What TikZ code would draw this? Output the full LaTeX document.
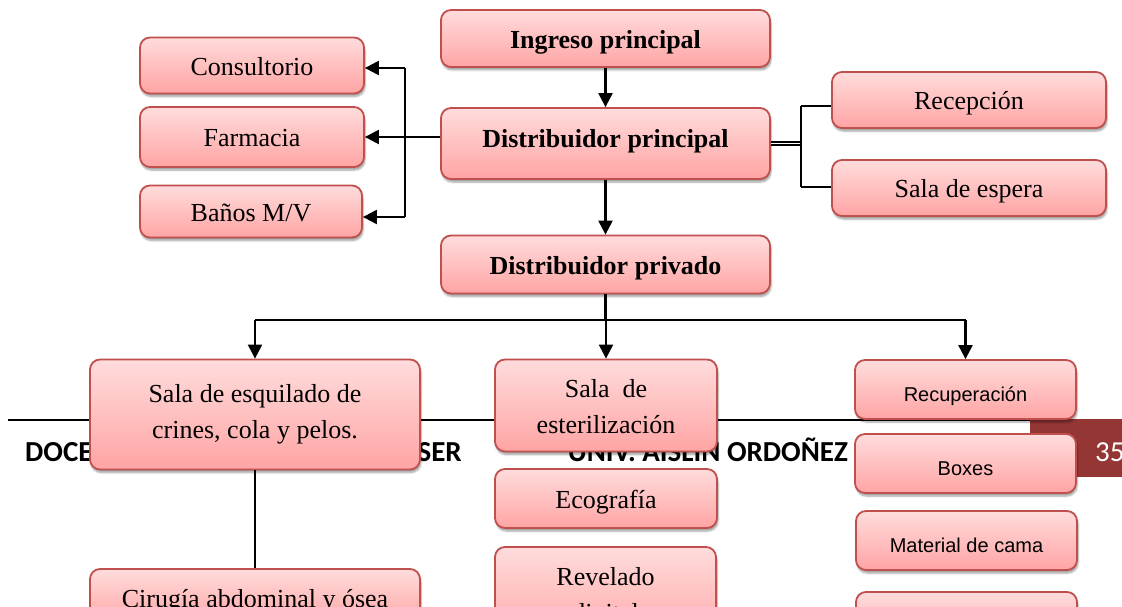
\documentclass[tikz,border=0pt]{standalone}
\usepackage{fontspec}
\setmainfont{Liberation Serif}
\newfontfamily\arialf{Liberation Sans}
\newfontfamily\calib{Carlito}
\usetikzlibrary{arrows.meta,shadows,shadows.blur}
\definecolor{boxborder}{HTML}{C0504D}
\definecolor{boxtop}{HTML}{FFDCDC}
\definecolor{boxbot}{HTML}{FFA4A4}
\definecolor{footred}{HTML}{943634}
\begin{document}
\begin{tikzpicture}[x=1pt,y=-1pt,
  box/.style={draw=boxborder, line width=1.8pt, rounded corners=10pt,
    top color=boxtop, bottom color=boxbot,
    blur shadow={shadow xshift=1pt, shadow yshift=-3pt, shadow blur steps=6, shadow opacity=38},
    align=center, inner sep=0pt, font=\fontsize{26}{36}\selectfont},
  oneline/.style={box, text height=20pt, text depth=0pt},
  sbox/.style={box, font=\arialf\fontsize{20}{24}\selectfont, text height=24pt, text depth=0pt},
  bbox/.style={box, font=\bfseries\fontsize{26}{31}\selectfont, text height=20pt, text depth=0pt},
  conn/.style={line width=2.2pt, draw=black},
  arr/.style={conn, -{Triangle[length=14pt,width=14pt]}},
  thinconn/.style={line width=1.6pt, draw=black},
  foot/.style={font=\calib\bfseries\fontsize{29}{34}\selectfont, inner sep=0pt}]
\useasboundingbox (0,0) rectangle (1122,607);
\clip (0,0) rectangle (1122,607);

% footer of the page (behind the boxes)
\draw[line width=2pt] (8,420) -- (1030,420);
\fill[footred] (1030,419) rectangle (1122,477);
\node[foot, anchor=base west] (f1) at (25,461) {DOCE};
\node[foot, anchor=base east] (f2) at (462,461) {SER};
\node[foot, anchor=base east] (f3) at (848,461) {UNIV. AISLIN ORDOÑEZ};
\node[font=\calib\fontsize{29}{34}\selectfont, text=white, inner sep=0pt, anchor=base west] (f4) at (1095,461) {35};

% boxes
\node[bbox, minimum width=329pt, minimum height=57pt] (ing) at (605.5,38.5) {Ingreso principal};
\node[oneline, minimum width=224pt, minimum height=56pt] (con) at (252,65.5) {Consultorio};
\node[oneline, minimum width=224pt, minimum height=60pt] (far) at (252,137) {Farmacia};
\node[oneline, minimum width=222pt, minimum height=52pt] (ban) at (251,211.5) {Baños M/V};
\node[bbox, minimum width=329pt, minimum height=71pt, text height=14pt, text depth=6pt] (dp) at (605.5,143.5) {Distribuidor principal};
\node[oneline, minimum width=274pt, minimum height=56pt] (rec) at (969,100) {Recepción};
\node[oneline, minimum width=274pt, minimum height=56pt, text height=18pt] (esp) at (969,188) {Sala de espera};
\node[bbox, minimum width=329pt, minimum height=58pt, text height=19pt] (dpr) at (605.5,264.5) {Distribuidor privado};
\node[box, minimum width=330pt, minimum height=110pt] (esq) at (255,414.5) {Sala de esquilado de\\crines, cola y pelos.};
\node[box, minimum width=222pt, minimum height=92pt] (est) at (606,405.5) {\rule{0pt}{21pt}Sala\ \ de\\esterilización};
\node[sbox, minimum width=221pt, minimum height=59pt] (recu) at (965.5,389.5) {Recuperación};
\node[sbox, minimum width=221pt, minimum height=59pt] (bxs) at (965.5,463.5) {Boxes};
\node[sbox, minimum width=221pt, minimum height=59pt] (mat) at (966.5,540.5) {Material de cama};
\node[sbox, minimum width=221pt, minimum height=60pt] (prt) at (966.5,622) {};
\node[oneline, minimum width=222pt, minimum height=59pt] (eco) at (606,498.5) {Ecografía};
\node[box, minimum width=221pt, minimum height=100pt] (rev) at (605.5,597) {Revelado\\digital};
\node[oneline, minimum width=330pt, minimum height=56pt] (cir) at (255,597) {Cirugía abdominal y ósea};

% connectors
\draw[arr] (ing) -- (dp);
\draw[arr] (dp) -- (dpr);

\coordinate (j1) at (405,68);
\coordinate (j2) at (405,217);
\draw[conn] (j1) -- (j2);
\draw[arr] (j1) -- (con.east |- j1);
\draw[arr] (j2) -- (ban.east |- j2);
\draw[arr] (dp.west |- far.east) -- (far.east);

\coordinate (r0) at (801,143.5);
\coordinate (r1) at (801,106);
\coordinate (r2) at (801,187);
\draw[double, double distance=1.8pt, line width=1.3pt] (dp.east) -- (r0);
\draw[thinconn] (r1) -- (r2);
\draw[thinconn] (r1) -- (rec.west |- r1);
\draw[thinconn] (r2) -- (esp.west |- r2);

\coordinate (hb) at (605.5,320);
\draw[conn] (dpr.south) -- (hb);
\draw[conn] (esq.north |- hb) -- (recu.north |- hb);
\draw[arr] (esq.north |- hb) -- (esq.north);
\draw[arr] (est.north |- hb) -- (est.north);
\draw[arr] (recu.north |- hb) -- (recu.north);
\draw[conn] (esq.south) -- (cir.north);
\end{tikzpicture}
\end{document}
